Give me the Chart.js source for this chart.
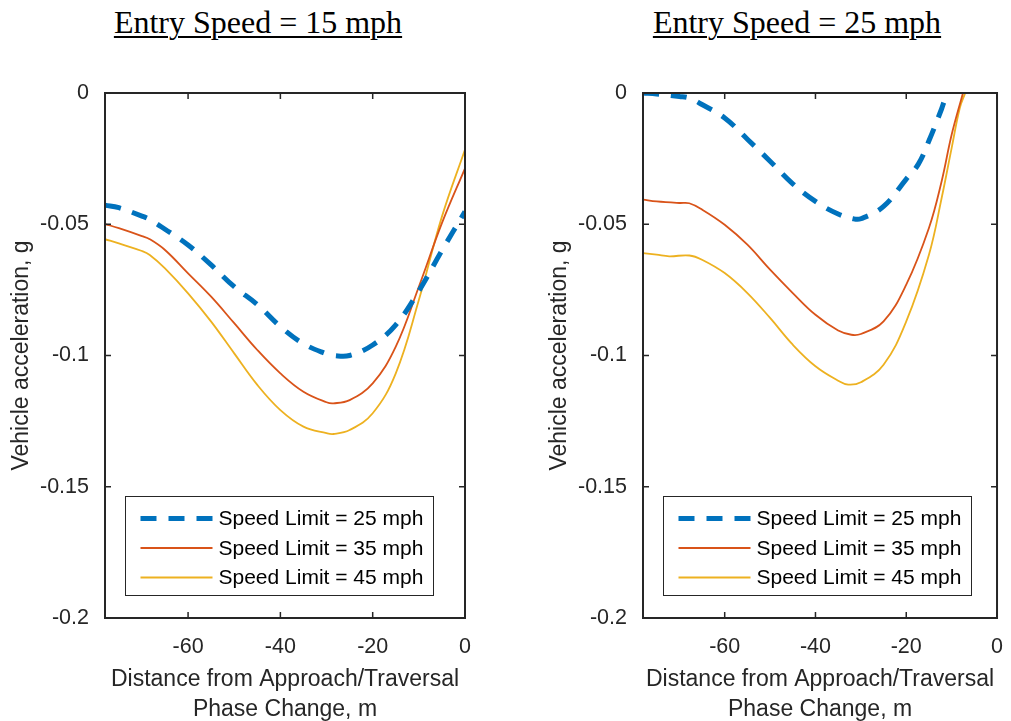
<!DOCTYPE html>
<html>
<head>
<meta charset="utf-8">
<script src="https://cdn.jsdelivr.net/npm/chart.js@4/dist/chart.umd.min.js"></script>
<style>
  body { margin: 0; background: #fff; }
  #wrap { position: relative; width: 1011px; height: 721px; }
  canvas { position: absolute; top: 0; }
  .ttl {
    position: absolute; top: 6px; width: 400px; text-align: center;
    font-family: 'Liberation Serif', 'Times New Roman', serif;
    font-size: 32px; line-height: 32px; color: #000;
    text-decoration: underline; text-decoration-thickness: 2px; text-underline-offset: 3px;
  }
</style>
</head>
<body>
<div id="wrap">
  <div class="ttl" style="left:58px">Entry Speed = 15 mph</div>
  <div class="ttl" style="left:597px">Entry Speed = 25 mph</div>
  <canvas id="leftChart" width="505" height="721" style="left:0"></canvas>
  <canvas id="rightChart" width="473" height="721" style="left:538px"></canvas>
</div>
<script>
// tick labels
const xTicks = [-60, -40, -20, 0];
const yTicks = [0, -0.05, -0.1, -0.15, -0.2];
const seriesLabels = ['Speed Limit = 25 mph', 'Speed Limit = 35 mph', 'Speed Limit = 45 mph'];

// Entry speed 15 mph
const distL = [-78, -75, -70, -68.3, -65, -60, -55, -50, -45, -40, -35, -30, -28.5, -25, -20, -15, -10, -5, 0];
const accL25 = [-0.0427, -0.0437, -0.0469, -0.0482, -0.0519, -0.0579, -0.0655, -0.0738, -0.0806, -0.0890, -0.0955, -0.0994, -0.1000, -0.1000, -0.0960, -0.0883, -0.0754, -0.0600, -0.0452];
const accL35 = [-0.0499, -0.0515, -0.0545, -0.0557, -0.0598, -0.0687, -0.0776, -0.0877, -0.0979, -0.1068, -0.1138, -0.1178, -0.1182, -0.1170, -0.1106, -0.0966, -0.0738, -0.0496, -0.0287];
const accL45 = [-0.0557, -0.0573, -0.0602, -0.0617, -0.0668, -0.0763, -0.0871, -0.0992, -0.1112, -0.1208, -0.1271, -0.1296, -0.1299, -0.1284, -0.1220, -0.1068, -0.0789, -0.0471, -0.0215];

// Entry speed 25 mph
const distR25 = [-78, -75, -70, -67.8, -65, -60, -55, -50, -45, -40, -35, -31.7, -30, -25, -20, -17.3, -15, -12.2, -11.5, -10.8];
const accR25 = [0, -0.0004, -0.0013, -0.0019, -0.0044, -0.0095, -0.0176, -0.0260, -0.0346, -0.0413, -0.0461, -0.0479, -0.0479, -0.0432, -0.0328, -0.0270, -0.0182, -0.0060, -0.0025, 0];
const distR35 = [-78, -75, -70, -67.8, -65, -60, -55, -50, -45, -40, -35, -32.1, -30, -25, -20, -15, -12.2, -10, -7.5];
const accR35 = [-0.0406, -0.0413, -0.0419, -0.0420, -0.0444, -0.0502, -0.0578, -0.0673, -0.0762, -0.0845, -0.0905, -0.0921, -0.0918, -0.0870, -0.0730, -0.0514, -0.0336, -0.0159, 0];
const distR45 = [-78, -75, -72.2, -67.8, -65, -60, -55, -50, -45, -40, -35, -32.8, -30, -25, -20, -15, -12.2, -10, -8.2, -7];
const accR45 = [-0.0610, -0.0616, -0.0622, -0.0619, -0.0635, -0.0686, -0.0762, -0.0857, -0.0959, -0.1041, -0.1096, -0.1111, -0.1102, -0.1035, -0.0870, -0.0616, -0.0400, -0.0210, -0.0057, 0];

const sans = '"Liberation Sans", Arial, sans-serif';
const axisColor = '#262626';

function pts(xs, ys) {
    return xs.map((x, i) => ({ x: x, y: ys[i] }));
}

function makeSets(d25, a25, d35, a35, d45, a45) {
    return [
        { label: seriesLabels[0], data: pts(d25, a25), borderColor: '#0072BD', borderWidth: 5, borderDash: [16, 12] },
        { label: seriesLabels[1], data: pts(d35, a35), borderColor: '#D95319', borderWidth: 1.8 },
        { label: seriesLabels[2], data: pts(d45, a45), borderColor: '#EDB120', borderWidth: 1.8 }
    ];
}

// box with inward ticks + legend inside the axes, matlab style
const boxPlugin = {
    id: 'matlabBox',
    afterDraw(chart) {
        const { ctx, chartArea: a, scales } = chart;
        ctx.save();
        ctx.strokeStyle = axisColor;
        ctx.lineWidth = 2;
        ctx.strokeRect(a.left, a.top, a.right - a.left, a.bottom - a.top);
        ctx.lineWidth = 1.5;
        ctx.beginPath();
        scales.x.ticks.forEach(t => {
            const px = scales.x.getPixelForValue(t.value);
            ctx.moveTo(px, a.bottom); ctx.lineTo(px, a.bottom - 6);
            ctx.moveTo(px, a.top); ctx.lineTo(px, a.top + 6);
        });
        scales.y.ticks.forEach(t => {
            const py = scales.y.getPixelForValue(t.value);
            ctx.moveTo(a.left, py); ctx.lineTo(a.left + 6, py);
            ctx.moveTo(a.right, py); ctx.lineTo(a.right - 6, py);
        });
        ctx.stroke();

        const bx = a.left + 20.5, by = a.bottom - 121.5, bw = 308, bh = 99;
        ctx.fillStyle = '#fff';
        ctx.fillRect(bx, by, bw, bh);
        ctx.lineWidth = 1;
        ctx.strokeStyle = axisColor;
        ctx.strokeRect(bx, by, bw, bh);
        chart.data.datasets.forEach((ds, i) => {
            const y = by + 22 + i * 29.5;
            ctx.strokeStyle = ds.borderColor;
            ctx.lineWidth = ds.borderWidth;
            ctx.setLineDash(ds.borderDash || []);
            ctx.beginPath();
            ctx.moveTo(bx + 15, y);
            ctx.lineTo(bx + 87, y);
            ctx.stroke();
            ctx.setLineDash([]);
            ctx.fillStyle = '#000';
            ctx.font = '21px ' + sans;
            ctx.textBaseline = 'middle';
            ctx.fillText(ds.label, bx + 93, y + 1);
        });
        ctx.restore();
    }
};

function makeChart(id, datasets, rightPad) {
    return new Chart(document.getElementById(id), {
        type: 'line',
        data: { datasets: datasets },
        plugins: [boxPlugin],
        options: {
            responsive: false,
            animation: false,
            devicePixelRatio: 1,
            layout: { padding: { top: 93, right: rightPad, left: 0, bottom: 0 } },
            elements: {
                point: { radius: 0 },
                line: { tension: 0.4, borderCapStyle: 'butt' }
            },
            plugins: {
                legend: { display: false },
                tooltip: { enabled: false }
            },
            scales: {
                x: {
                    type: 'linear',
                    min: -78,
                    max: 0,
                    afterBuildTicks: s => { s.ticks = xTicks.map(v => ({ value: v })); },
                    afterFit: s => { s.height = 103; },
                    grid: { display: false },
                    border: { display: false },
                    ticks: { color: axisColor, padding: 8, font: { family: sans, size: 21.5 }, maxRotation: 0 },
                    title: {
                        display: true,
                        text: ['Distance from Approach/Traversal', 'Phase Change, m'],
                        color: axisColor,
                        font: { family: sans, size: 23, lineHeight: 1.3 },
                        padding: { top: 0, bottom: -4 }
                    }
                },
                y: {
                    min: -0.2,
                    max: 0,
                    afterBuildTicks: s => { s.ticks = yTicks.map(v => ({ value: v })); },
                    afterFit: s => { s.width = 105; },
                    grid: { display: false },
                    border: { display: false },
                    ticks: {
                        color: axisColor,
                        padding: 8,
                        font: { family: sans, size: 21.5 },
                        callback: v => String(Number(v.toFixed(3)))
                    },
                    title: {
                        display: true,
                        text: 'Vehicle acceleration, g',
                        color: axisColor,
                        font: { family: sans, size: 23 },
                        padding: { top: 8, bottom: 0 }
                    }
                }
            }
        }
    });
}

makeChart('leftChart', makeSets(distL, accL25, distL, accL35, distL, accL45), 40);
makeChart('rightChart', makeSets(distR25, accR25, distR35, accR35, distR45, accR45), 8);
</script>
</body>
</html>
